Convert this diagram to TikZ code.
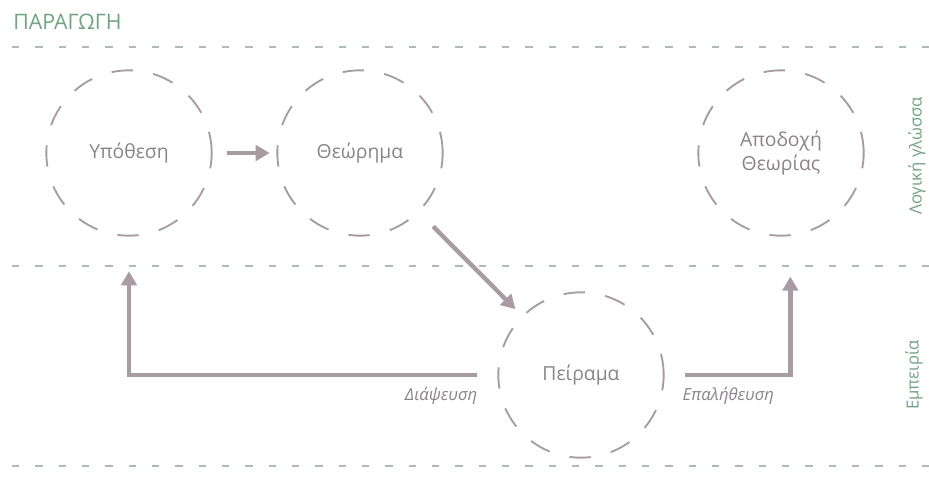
\documentclass[tikz,border=0pt]{standalone}
\usepackage{fontspec}
\setmainfont{Open Sans}
\usetikzlibrary{arrows.meta}
\definecolor{mauve}{RGB}{168,156,162}
\definecolor{txtgray}{RGB}{140,130,136}
\definecolor{leaf}{RGB}{108,166,126}
\definecolor{rulegray}{RGB}{172,188,182}
\tikzset{
  stage/.style={circle, draw=mauve, line width=1.4pt, dash pattern=on 16pt off 15.5pt,
    minimum size=124pt, inner sep=0pt, text=txtgray, align=center,
    font=\fontsize{14.5}{18}\selectfont},
  flow/.style={draw=mauve, line width=3.3pt, -{Triangle[length=10.5pt,width=11.5pt]}},
  band/.style={draw=rulegray, line width=1pt, dash pattern=on 5.5pt off 12pt},
  verdict/.style={text=txtgray, font=\itshape\fontsize{12.5}{14}\selectfont},
  side/.style={text=leaf, rotate=90, font=\fontsize{12.5}{14}\selectfont}
}
\begin{document}
\begin{tikzpicture}[x=0.75pt,y=-0.75pt]
\useasboundingbox (0,0) rectangle (929,482);
% title and the three dashed bands
\node[anchor=west, text=leaf, font=\fontsize{16}{18}\selectfont, inner sep=0pt] (title) at (13,22) {ΠΑΡΑΓΩΓΗ};
\foreach \y in {47,266,466} % edit here for the bands
\draw[band] (12,\y) -- (929,\y);
% the stages
\node[stage] (hyp) at (129,153) {Υπόθεση};
\node[stage] (theo) at (360,153) {Θεώρημα};
\node[stage] (acc) at (781,153) {Αποδοχή\\Θεωρίας};
\node[stage] (exp) at (581,375) {Πείραμα};
% side labels
\node[side] (logic) at (917,156) {Λογική γλώσσα};
\node[side] (empir) at (914,375) {Εμπειρία};
% arrows
\draw[flow, shorten <=11pt, shorten >=5pt] (hyp) -- (theo);
\draw[flow, shorten <=15pt, shorten >=7pt] (theo) -- (exp);
\draw[flow, shorten <=15pt, shorten >=26pt] (exp.west) -| (hyp.south);
\draw[flow, shorten <=15pt, shorten >=30pt] (exp.east) -| ([xshift=7pt]acc.south);
% outcomes
\node[verdict, anchor=east] (refute) at (482,396) {Διάψευση};
\node[verdict, anchor=west] (verify) at (678,396) {Επαλήθευση};
\end{tikzpicture}
\end{document}
